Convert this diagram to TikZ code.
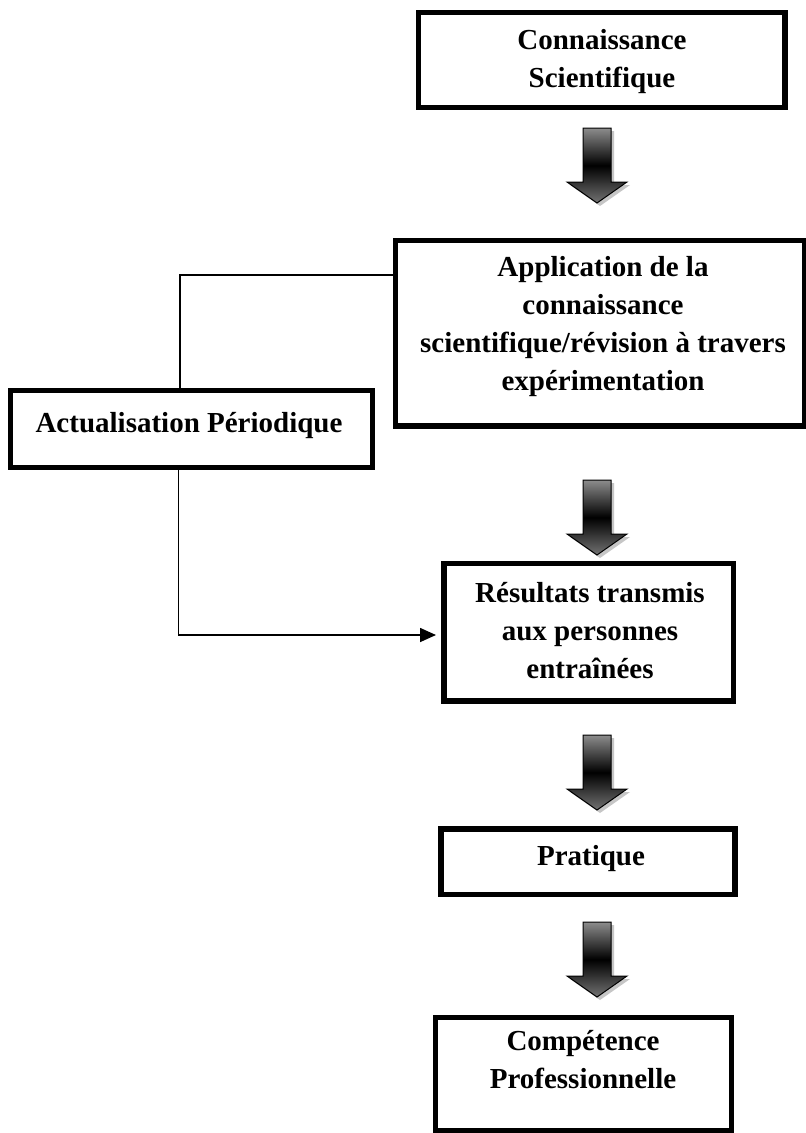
\documentclass[tikz,border=0pt]{standalone}
\usepackage{fontspec}
\setmainfont{Liberation Serif}
\usetikzlibrary{arrows.meta}
\tikzset{
  box/.style={draw, line width=5.5pt, inner sep=0pt, outer sep=0pt},
  lbl/.style={font=\fontsize{29}{38}\selectfont\bfseries, align=center, inner sep=0pt},
  link/.style={line width=1.6pt},
  blockarrow/.pic={
    \fill[gray!45] (-11,3) -- (17,3) -- (17,57) -- (33,57) -- (3,78) -- (-27,57) -- (-11,57) -- cycle;
    \draw[line width=1pt, top color=black!45, bottom color=black!55, middle color=black]
      (-14,0) -- (14,0) -- (14,54) -- (30,54) -- (0,75) -- (-30,54) -- (-14,54) -- cycle;
  }
}
\begin{document}
\begin{tikzpicture}[x=1pt,y=-1pt]
\useasboundingbox[fill=white] (0,0) rectangle (806,1133);
% boxes
\node[box, minimum width=366.5pt, minimum height=95pt] (B1) at (601.75,60) {};
\node[box, minimum width=409.5pt, minimum height=185.5pt] (B2) at (600.25,333.25) {};
\node[box, minimum width=362pt, minimum height=77pt] (B3) at (191.5,429) {};
\node[box, minimum width=289.5pt, minimum height=137.5pt] (B4) at (588.75,632.25) {};
\node[box, minimum width=294pt, minimum height=65.5pt] (B5) at (588,861.75) {};
\node[box, minimum width=296pt, minimum height=113.5pt] (B6) at (583.5,1074.25) {};
% texts
\node[lbl] (T1) at (602,62) {Connaissance\\Scientifique};
\node[lbl] (T2) at (603,327) {Application de la\\connaissance\\scientifique/révision à travers\\expérimentation};
\node[lbl, anchor=base] (T3) at (189,432) {Actualisation Périodique};
\node[lbl] (T4) at (590,631) {Résultats transmis\\aux personnes\\entraînées};
\node[lbl, anchor=base] (T5) at (591,865) {Pratique};
\node[lbl] (T6) at (583,1060) {Compétence\\Professionnelle};
% block arrows
\pic (A1) at (597,128) {blockarrow};
\pic (A2) at (597,480) {blockarrow};
\pic (A3) at (597,735) {blockarrow};
\pic (A4) at (597,922) {blockarrow};
% connectors
\coordinate (k1) at (180,275);
\coordinate (k2) at (178.5,635);
\draw[link] (k1 -| B2.west) -- (k1) -- (k1 |- B3.north);
\draw[link,-{Triangle[length=16pt,width=14pt]}] (k2 |- B3.south) -- (k2) -- ([xshift=-8pt]k2 -| B4.west);
\end{tikzpicture}
\end{document}
